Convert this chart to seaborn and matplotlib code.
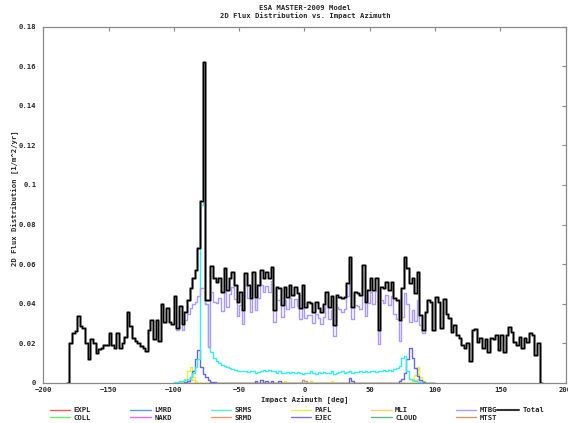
import matplotlib
matplotlib.use("Agg")
import matplotlib.pyplot as plt
from matplotlib.lines import Line2D
from matplotlib.ticker import FuncFormatter
import numpy as np
import pandas as pd
import seaborn as sns

# 2 deg azimuth bins, -180 .. 180
bin_edges = list(range(-180, 182, 2))
bin_centers = [e + 1 for e in bin_edges[:-1]]
mid_edges = list(range(-100, 102, 2))  # range where the single sources show up

total_flux = [
    0.020, 0.025, 0.026, 0.034, 0.029, 0.028, 0.020, 0.012, 0.022, 0.020,
    0.015, 0.017, 0.0175, 0.019, 0.019, 0.025, 0.019, 0.0175, 0.025, 0.0175,
    0.020, 0.023, 0.036, 0.029, 0.0225, 0.021, 0.020, 0.0185, 0.0175, 0.016,
    0.027, 0.032, 0.022, 0.032, 0.021, 0.040, 0.031, 0.038, 0.031, 0.030,
    0.044, 0.028, 0.039, 0.030, 0.036, 0.042, 0.048, 0.053, 0.057, 0.068,
    0.092, 0.162, 0.042, 0.042, 0.0592, 0.0529, 0.0512, 0.0529, 0.0461, 0.0579,
    0.047, 0.0529, 0.0562, 0.0495, 0.041, 0.0461, 0.037, 0.0554, 0.0495, 0.0427,
    0.0562, 0.0436, 0.0495, 0.0571, 0.0529, 0.0562, 0.0529, 0.0587, 0.0369, 0.0486,
    0.0478, 0.0394, 0.0486, 0.0436, 0.0495, 0.0444, 0.0486, 0.0453, 0.0377, 0.0495,
    0.0385, 0.041, 0.0402, 0.036, 0.041, 0.038, 0.036, 0.040, 0.0457, 0.0385,
    0.044, 0.0293, 0.0444, 0.0436, 0.0427, 0.0436, 0.0503, 0.0638, 0.0385, 0.046,
    0.0453, 0.0444, 0.0596, 0.041, 0.047, 0.0529, 0.047, 0.0529, 0.0268, 0.0486,
    0.0478, 0.0512, 0.047, 0.0512, 0.0427, 0.042, 0.0318, 0.048, 0.0638, 0.058,
    0.0503, 0.053, 0.0453, 0.0558, 0.0343, 0.0268, 0.036, 0.0419, 0.041, 0.0268,
    0.0436, 0.041, 0.028, 0.0423, 0.0346, 0.0326, 0.0259, 0.0293, 0.0242, 0.0226,
    0.0192, 0.0175, 0.020, 0.0111, 0.0268, 0.0272, 0.0209, 0.0226, 0.0175, 0.0222,
    0.0158, 0.0226, 0.0222, 0.0242, 0.0165, 0.0242, 0.0158, 0.0242, 0.0285, 0.0259,
    0.0209, 0.0192, 0.0234, 0.0178, 0.0226, 0.0209, 0.025, 0.024, 0.014, 0.020,
]

# MTBG and SRMS, bins from -100 to 100 deg
mid_az = bin_centers[40:140]
mtbg_flux = [
    0.043, 0.027, 0.035, 0.027, 0.032, 0.035, 0.038, 0.040, 0.041, 0.044,
    0.048, 0.048, 0.040, 0.018, 0.0457, 0.0409, 0.0402, 0.0427, 0.0366, 0.0489,
    0.0385, 0.0449, 0.0484, 0.0423, 0.034, 0.0393, 0.0298, 0.0489, 0.0427, 0.0357,
    0.050, 0.0371, 0.0427, 0.0495, 0.0459, 0.0488, 0.0461, 0.0515, 0.0307, 0.0418,
    0.042, 0.0332, 0.042, 0.0376, 0.0429, 0.0386, 0.0422, 0.0391, 0.0321, 0.0433,
    0.0327, 0.0342, 0.0342, 0.0304, 0.0346, 0.033, 0.030, 0.0334, 0.0399, 0.0323,
    0.037, 0.0237, 0.0384, 0.0372, 0.0359, 0.0374, 0.0437, 0.0543, 0.0323, 0.0394,
    0.0389, 0.0376, 0.053, 0.034, 0.0406, 0.0461, 0.0398, 0.0463, 0.0198, 0.0418,
    0.0404, 0.0442, 0.0394, 0.044, 0.0347, 0.0325, 0.0213, 0.0335, 0.0453, 0.040,
    0.0308, 0.037, 0.0315, 0.0418, 0.0295, 0.0253, 0.0355, 0.0419, 0.041, 0.0268,
]
srms_flux = [
    0.0003, 0.0005, 0.0008, 0.001, 0.0015, 0.002, 0.003, 0.005, 0.008, 0.012,
    0.090, 0.110, 0.040, 0.018, 0.0158, 0.0125, 0.011, 0.010, 0.0092, 0.0085,
    0.008, 0.0075, 0.007, 0.0068, 0.0062, 0.006, 0.0058, 0.0062, 0.0055, 0.0058,
    0.006, 0.0052, 0.0055, 0.0058, 0.0066, 0.006, 0.0064, 0.0058, 0.0062, 0.0052,
    0.0058, 0.0048, 0.0052, 0.0056, 0.005, 0.0056, 0.0048, 0.0054, 0.0052, 0.0046,
    0.0052, 0.0048, 0.0058, 0.005, 0.0046, 0.0054, 0.005, 0.0056, 0.0048, 0.0052,
    0.006, 0.0046, 0.005, 0.0054, 0.0058, 0.0052, 0.0056, 0.006, 0.0052, 0.0056,
    0.0054, 0.0058, 0.0056, 0.006, 0.0054, 0.0058, 0.0062, 0.0056, 0.006, 0.0058,
    0.0064, 0.006, 0.0066, 0.0062, 0.007, 0.0075, 0.0085, 0.0125, 0.0135, 0.006,
    0.002, 0.0015, 0.0008, 0.0005, 0.0003, 0.0, 0.0, 0.0, 0.0, 0.0,
]

# small sources: bin centre (deg) and flux
ejec_az = [-91, -89, -87, -85, -83, -81, -79, -77, -75, -73, -71, -69,
           -37, -33, -29, -25, -19, 35, 37,
           73, 75, 77, 79, 81, 83, 85, 87, 89, 91]
ejec_flux = [0.0005, 0.001, 0.003, 0.006, 0.012, 0.0167, 0.0083, 0.0045, 0.003, 0.0015, 0.0007, 0.0003,
             0.001, 0.0015, 0.001, 0.0012, 0.001, 0.0025, 0.001,
             0.001, 0.002, 0.005, 0.012, 0.0175, 0.0125, 0.0075, 0.0035, 0.0015, 0.0007]
pafl_az = [-91, -89, -87, -85, -83, -15, 5, 21, 83, 85, 87, 89, 91]
pafl_flux = [0.002, 0.006, 0.008, 0.003, 0.001, 0.001, 0.0008, 0.0008,
             0.002, 0.004, 0.008, 0.003, 0.0008]
mli_az = [-87, -85, 85, 87]
mli_flux = [0.002, 0.0015, 0.0015, 0.002]
mtst_az = [-1, 1]
mtst_flux = [0.0015, 0.001]

legend_names = ['EXPL', 'COLL', 'LMRD', 'NAKD', 'SRMS', 'SRMD',
                'PAFL', 'EJEC', 'MLI', 'CLOUD', 'MTBG', 'MTST']
legend_colors = ['#ff5555', '#66ee66', '#5599ff', '#ee66ee', '#55eedd', '#ee9966',
                 '#eeee44', '#7777dd', '#ffcc66', '#55bb88', '#aa99ff', '#cc9966']

sns.set_theme(style="white")
plt.rcParams['font.family'] = ['DejaVu Sans Mono']
plt.rcParams['font.weight'] = 'bold'
fs = 5.2

fig = plt.figure(figsize=(5.68, 4.23), dpi=100)
ax = fig.add_axes([0.0762, 0.0946, 0.9197, 0.8427])


def step(az, flux, color, bins, lw=1.0, z=2):
    df = pd.DataFrame({'az': az, 'flux': flux})
    sns.histplot(data=df, x='az', weights='flux', bins=bins, element="step",
                 fill=False, color=color, linewidth=lw, ax=ax, zorder=z)


step(mtst_az, mtst_flux, '#cc9966', mid_edges)
step(mli_az, mli_flux, '#ffcc66', mid_edges)
step(pafl_az, pafl_flux, '#eeee33', mid_edges)
step(ejec_az, ejec_flux, '#6666dd', mid_edges)
step(mid_az, srms_flux, '#33eeee', mid_edges, z=3)
step(mid_az, mtbg_flux, '#aa99ff', mid_edges, z=3)
# empty bins on both sides so the total drops to zero at +-180
total_edges = [-182] + bin_edges + [182]
step(bin_centers, total_flux, '#8c8c8c', total_edges, lw=2.0, z=4)
step(bin_centers, total_flux, 'black', total_edges, lw=1.0, z=5)

ax.set_xlim(-200, 200)
ax.set_ylim(0, 0.18)
ax.set_xticks(np.arange(-200, 201, 50))
ax.set_yticks(np.arange(0, 0.181, 0.02))
ax.yaxis.set_major_formatter(FuncFormatter(lambda v, p: f'{v:g}'))
ax.set_xlabel('')
ax.set_ylabel('')
ax.tick_params(direction='in', length=3, width=0.8, color='#888888',
               labelsize=fs, top=True, right=True, pad=3)
ax.tick_params(axis='y', pad=5)
for s in ax.spines.values():
    s.set_color('#888888')
    s.set_linewidth(0.9)

fig.text(0.537, 0.981, 'ESA MASTER-2009 Model', ha='center', va='center', fontsize=fs)
fig.text(0.537, 0.963, '2D Flux Distribution vs. Impact Azimuth', ha='center', va='center', fontsize=fs)
fig.text(0.537, 0.054, 'Impact Azimuth [deg]', ha='center', va='center', fontsize=fs)
fig.text(0.027, 0.532, '2D Flux Distribution [1/m^2/yr]', ha='center', va='center',
         rotation=90, fontsize=fs)

handles = [Line2D([], [], color=c, lw=1) for c in legend_colors]
fig.legend(handles, legend_names, ncol=6, loc='upper left',
           bbox_to_anchor=(50 / 568, 0.037), frameon=False, fontsize=fs,
           handlelength=2.8, handletextpad=0.5, columnspacing=5.4,
           labelspacing=0.2, borderpad=0, borderaxespad=0)
fig.legend([Line2D([], [], color='#333333', lw=1.5)], ['Total'], loc='upper left',
           bbox_to_anchor=(497 / 568, 0.037), frameon=False, fontsize=fs,
           handlelength=3.1, handletextpad=0.4, borderpad=0, borderaxespad=0)

fig.savefig('out.png', dpi=100)
